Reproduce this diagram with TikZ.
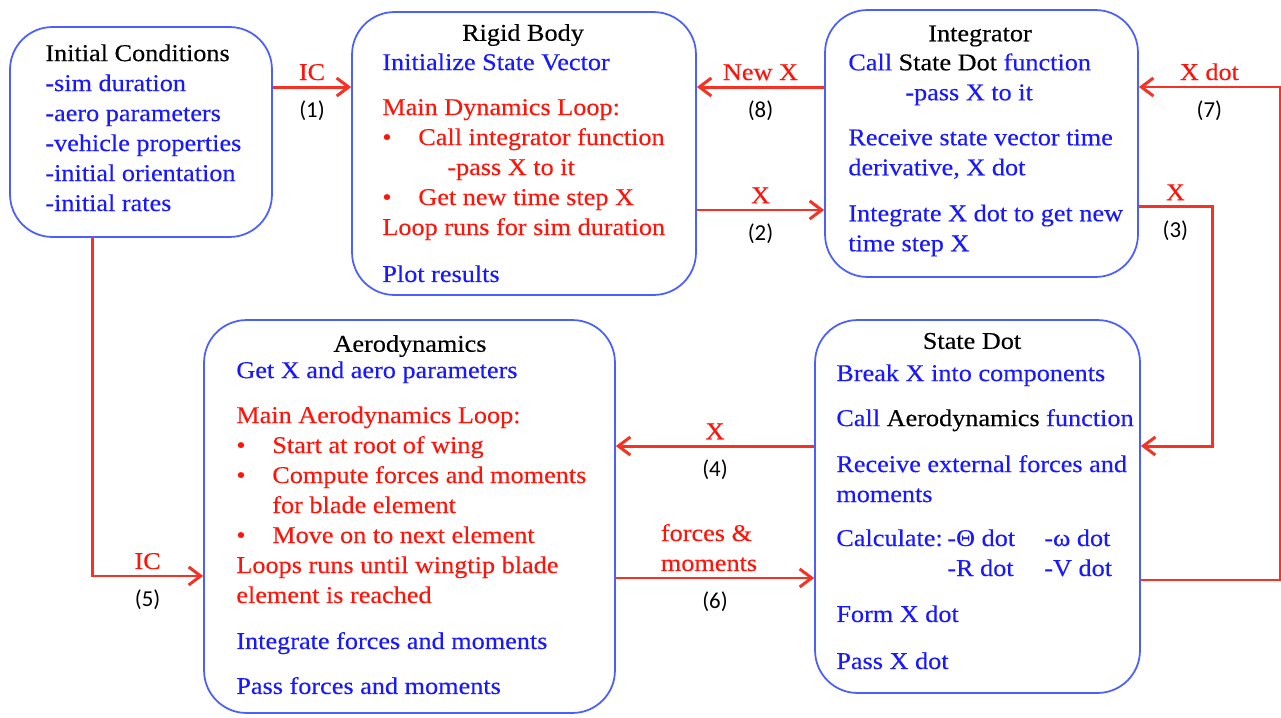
\documentclass[tikz,border=0pt]{standalone}
\usepackage{fontspec}
\setmainfont{Liberation Serif}[FakeStretch=1.09,FakeBold=0.3]
\newfontfamily\numfont{Carlito}
\usetikzlibrary{arrows.meta}

\definecolor{boxblue}{RGB}{75,95,255}
\definecolor{txtblue}{RGB}{25,25,255}
\definecolor{txtred}{RGB}{255,20,10}
\definecolor{linered}{RGB}{245,50,35}
\newcommand{\bodyfont}{\fontsize{13.7}{17.07}\selectfont}
\newcommand{\rd}[1]{\textcolor{txtred}{#1}}
\newcommand{\bk}[1]{\textcolor{black}{#1}}
\newcommand{\bul}{\makebox[0.72cm][l]{\textbullet}}

\begin{document}
\begin{tikzpicture}[x=0.02cm,y=-0.02cm,
    blk/.style={draw=boxblue,line width=1pt,rounded corners=0.85cm,inner sep=0pt},
    txt/.style={anchor=north west,inner sep=0pt,align=left,text=txtblue,font=\bodyfont},
    ttl/.style={inner sep=0pt,font=\bodyfont},
    flow/.style={draw=linered,line width=1.7pt,-{Straight Barb[length=2.4mm,width=3.6mm]}},
    lbl/.style={text=txtred,font=\bodyfont,inner sep=1pt,above=2pt},
    num/.style={font=\numfont\fontsize{13}{15}\selectfont,inner sep=1pt,below=6pt}]
    \useasboundingbox (0,0) rectangle (1281,717);

    % Blocks
    \node[blk,minimum width=5.24cm,minimum height=4.2cm] (ic) at (141,132) {};
    \node[blk,minimum width=6.88cm,minimum height=5.66cm] (rb) at (524,153.5) {};
    \node[blk,minimum width=6.26cm,minimum height=5.34cm] (int) at (981.5,143.5) {};
    \node[blk,minimum width=8.22cm,minimum height=7.86cm] (aero) at (409.5,516.5) {};
    \node[blk,minimum width=6.5cm,minimum height=7.46cm] (sd) at (977.5,506.5) {};

    % Titles
    \node[ttl] (rbT) at (523,35) {Rigid Body};
    \node[ttl] (intT) at (980,36) {Integrator};
    \node[ttl] (aeroT) at (410,346) {Aerodynamics};
    \node[ttl] (sdT) at (972,341) {State Dot};

    % Block contents
    \node[txt] (icB) at (45,44) {\bk{Initial Conditions}\\-sim duration\\-aero parameters\\
      -vehicle properties\\-initial orientation\\-initial rates};
    \node[txt] (rbB) at (382,53) {Initialize State Vector\\[0.3cm]
      \rd{Main Dynamics Loop:}\\
      \rd{\bul Call integrator function}\\
      \rd{\hspace{1.3cm}-pass X to it}\\
      \rd{\bul Get new time step X}\\
      \rd{Loop runs for sim duration}\\[0.34cm]
      Plot results};
    \node[txt] (intB) at (848,53) {Call \bk{State Dot} function\\
      \hspace{1.14cm}-pass X to it\\[0.3cm]
      Receive state vector time\\derivative, X dot\\[0.32cm]
      Integrate X dot to get new\\time step X};
    \node[txt] (aeroB) at (236,361) {Get X and aero parameters\\[0.3cm]
      \rd{Main Aerodynamics Loop:}\\
      \rd{\bul Start at root of wing}\\
      \rd{\bul Compute forces and moments}\\
      \rd{\hspace{0.72cm}for blade element}\\
      \rd{\bul Move on to next element}\\
      \rd{Loops runs until wingtip blade}\\
      \rd{element is reached}\\[0.32cm]
      Integrate forces and moments\\[0.3cm]
      Pass forces and moments};
    \node[txt] (sdB) at (836,364) {Break X into components\\[0.3cm]
      Call \bk{Aerodynamics} function\\[0.32cm]
      Receive external forces and\\moments\\[0.28cm]
      \makebox[2.22cm][l]{Calculate: }\makebox[1.94cm][l]{-Θ dot}-ω dot\\
      \hspace{2.22cm}\makebox[1.94cm][l]{-R dot}-V dot\\[0.32cm]
      Form X dot\\[0.34cm]
      Pass X dot};

    % Data flow
    \draw[flow] ([yshift=.9cm]ic.east) coordinate (s1) -- node[lbl] (l1) {IC} node[num] (n1) {(1)} (rb.west |- s1);
    \draw[flow] ([yshift=-1.13cm]rb.east) coordinate (s2) -- node[lbl] (l2) {X} node[num] (n2) {(2)} (int.west |- s2);
    \coordinate (c3) at (1212,446);
    \draw[flow] ([yshift=-1.27cm]int.east) -| node[lbl,pos=.25] (l3) {X} node[num,pos=.25] (n3) {(3)} (c3) -- (sd.east |- c3);
    \draw[flow] ([yshift=1.21cm]sd.west) coordinate (s4) -- node[lbl] (l4) {X} node[num] (n4) {(4)} (aero.east |- s4);
    \draw[flow] ([xshift=-0.98cm]ic.south) |- node[lbl,pos=.75] (l5) {IC} node[num,pos=.75] (n5) {(5)} ([yshift=-1.19cm]aero.west);
    \draw[flow] ([yshift=-1.23cm]aero.east) coordinate (s6) -- node[lbl,align=left,xshift=-0.12cm] (l6) {forces \&\\moments} node[num] (n6) {(6)} (sd.west |- s6);
    \coordinate (c7) at (1280,87);
    \draw[flow] ([yshift=-1.47cm]sd.east) -| (c7) -- node[lbl] (l7) {X dot} node[num] (n7) {(7)} (int.east |- c7);
    \draw[flow] ([yshift=1.13cm]int.west) coordinate (s8) -- node[lbl] (l8) {New X} node[num] (n8) {(8)} (rb.east |- s8);
\end{tikzpicture}
\end{document}
